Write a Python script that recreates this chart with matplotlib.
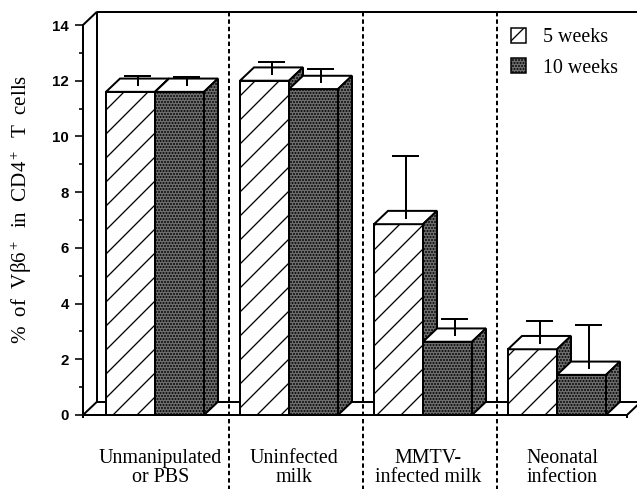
import matplotlib
matplotlib.use("Agg")
import matplotlib.pyplot as plt
from matplotlib.patches import Polygon, Rectangle, Patch
import numpy as np

# ---- data ----
categories = ["Unmanipulated\nor PBS", "Uninfected\nmilk", "MMTV-\ninfected milk", "Neonatal\ninfection"]
series_names = ["5 weeks", "10 weeks"]
values_5wk = [11.6, 12.0, 6.85, 2.36]
errors_5wk = [0.33, 0.42, 2.22, 0.78]
values_10wk = [11.6, 11.7, 2.63, 1.44]
errors_10wk = [0.30, 0.48, 0.58, 1.54]
yticks = [0, 2, 4, 6, 8, 10, 12, 14]
ylabel = "% of Vβ6$^+$ in CD4$^+$ T cells"

plt.rcParams['font.family'] = ['Liberation Serif', 'DejaVu Serif']
plt.rcParams['mathtext.fontset'] = 'custom'
plt.rcParams['mathtext.rm'] = 'Liberation Serif'
plt.rcParams['mathtext.it'] = 'Liberation Serif:italic'
plt.rcParams['mathtext.bf'] = 'Liberation Serif:bold'
plt.rcParams['hatch.linewidth'] = 1.3

W, H, DPI = 637, 489, 72
fig = plt.figure(figsize=(W / DPI, H / DPI), dpi=DPI)
ax = fig.add_axes([83 / W, 74 / H, (W - 83) / W, 390 / H])

xl, xr = -72 / 134, (W - 155) / 134
ax.set_xlim(xl, xr)
ax.set_ylim(0, 14)
for s in ['top', 'right', 'bottom']:
    ax.spines[s].set_visible(False)
ax.spines['left'].set_linewidth(2)
ax.set_xticks([])
ax.set_yticks(yticks)
ax.set_yticks(np.arange(1, 14, 2), minor=True)
ax.tick_params(axis='y', which='major', length=8, width=1.6, pad=6)
ax.tick_params(axis='y', which='minor', length=4, width=1.6)
for lab in ax.get_yticklabels():
    lab.set_fontfamily('Liberation Sans')
    lab.set_fontweight('bold')
    lab.set_fontsize(15)
ax.set_ylabel(ylabel.replace(' ', '  '), fontsize=21, va='center')
ax.yaxis.set_label_coords((21 - 83) / (W - 83), (415 - 209) / 390)

dx = 14 / 134
dy = 13.3 / (390 / 14)
w = 49 / 134
floor_r = (627 - 155) / 134
lw = 2
k = dict(color='black', lw=lw, clip_on=False, solid_capstyle='butt')

# back wall & floor
ax.plot([xl, xl + dx], [14, 14 + dy], **k)
ax.plot([xl + dx, xr + 0.2], [14 + dy, 14 + dy], **k)
ax.plot([xl + dx, xl + dx], [dy, 14 + dy], **k, zorder=1)
ax.plot([xl, xl + dx], [0, dy], **k)
ax.plot([xl + dx, xr + 0.2], [dy, dy], **k, zorder=1)
ax.plot([xl, floor_r], [0, 0], **k, zorder=1)
ax.plot([floor_r, floor_r + dx], [0, dy], **k)
ax.plot([floor_r, floor_r], [0, -0.12], **k)
ax.plot([xl, xl], [0, -0.12], **k)

dark = '#6c6c6c'
dark_hatch = '....'


def bar3d(x0, h, front_fc, front_hatch, z):
    ax.add_patch(Rectangle((x0, 0), w, h, facecolor=front_fc, edgecolor='black',
                           hatch=front_hatch, lw=lw, zorder=z, joinstyle='miter'))
    ax.add_patch(Polygon([(x0, h), (x0 + w, h), (x0 + w + dx, h + dy), (x0 + dx, h + dy)],
                         closed=True, facecolor='white', edgecolor='black', lw=lw,
                         zorder=z, joinstyle='miter'))
    ax.add_patch(Polygon([(x0 + w, 0), (x0 + w + dx, dy), (x0 + w + dx, h + dy), (x0 + w, h)],
                         closed=True, facecolor=dark, edgecolor='black', hatch=dark_hatch,
                         lw=lw, zorder=z, joinstyle='miter'))


def err(x0, h, e, z):
    xc = x0 + w / 2 + dx / 2
    yb = h + dy / 2
    ax.plot([xc, xc], [yb, yb + e], color='black', lw=lw, zorder=z + 0.5)
    ax.plot([xc - 0.095, xc + 0.095], [yb + e, yb + e], color='black', lw=lw, zorder=z + 0.5)


for i in range(len(categories)):
    z = 3 + i * 2
    bar3d(i - w, values_5wk[i], 'white', '/', z)
    err(i - w, values_5wk[i], errors_5wk[i], z)
    bar3d(i, values_10wk[i], dark, dark_hatch, z + 1)
    err(i, values_10wk[i], errors_10wk[i], z + 1)

# dividers
for i in range(len(categories) - 1):
    ax.plot([i + 0.55, i + 0.55], [-2.7, 14 + dy], color='black', lw=2,
            linestyle=(0, (2.2, 1.5)), clip_on=False, zorder=20)

# category labels
for i, c in enumerate(categories):
    ax.text(i + 0.04, -1.9, c, ha='center', va='center', fontsize=20,
            linespacing=0.98)

handles = [Patch(facecolor='white', edgecolor='black', hatch='/', lw=1.5),
           Patch(facecolor=dark, edgecolor='black', hatch=dark_hatch, lw=1.5)]
leg = fig.legend(handles, series_names, loc='upper left', bbox_to_anchor=(497 / W, 1 - 14 / H),
                 frameon=False, fontsize=20, handlelength=0.75, handleheight=0.75,
                 handletextpad=0.85, labelspacing=0.55, borderpad=0.2)

fig.savefig('out.png', dpi=DPI)
